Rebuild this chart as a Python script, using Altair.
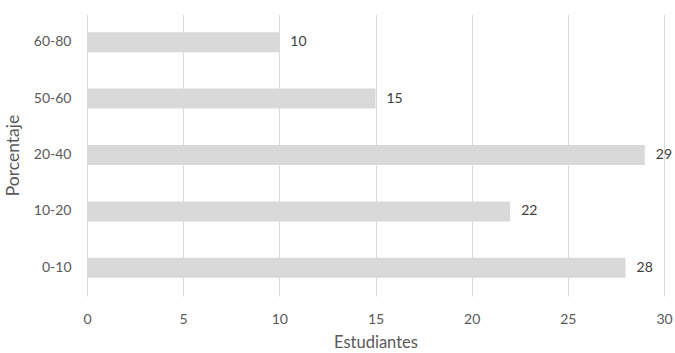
import altair as alt
import pandas as pd

categories = ["60-80", "50-60", "20-40", "10-20", "0-10"]
values = [10, 15, 29, 22, 28]

df = pd.DataFrame({"Porcentaje": categories, "Estudiantes": values})

FONT = "Lato"
base = alt.Chart(df)

y_enc = alt.Y(
    "Porcentaje:N",
    sort=categories,
    scale=alt.Scale(paddingInner=0.645, paddingOuter=0.3225),
    axis=alt.Axis(
        title="Porcentaje", domain=False, ticks=False, labelPadding=16,
        labelFontSize=14, labelColor="#595959", labelFont=FONT,
        titleFontSize=17.5, titleColor="#595959", titleFont=FONT,
        titleFontWeight="normal", titlePadding=11, grid=False,
    ),
)

x_enc = alt.X(
    "Estudiantes:Q",
    scale=alt.Scale(domain=[0, 30], nice=False),
    axis=alt.Axis(
        title="Estudiantes", values=[0, 5, 10, 15, 20, 25, 30], domain=False,
        ticks=False, labelPadding=16, labelFlush=False, grid=True,
        gridColor="#d9d9d9", gridWidth=1, labelFontSize=14,
        labelColor="#595959", labelFont=FONT,
        titleFontSize=16.5, titleColor="#595959", titleFont=FONT,
        titleFontWeight="normal", titlePadding=8,
    ),
)

bars = base.mark_bar(color="#d9d9d9").encode(x=x_enc, y=y_enc)
labels = base.mark_text(
    align="left", baseline="middle", dx=11, fontSize=14, color="#404040", font=FONT
).encode(x="Estudiantes:Q", y=alt.Y("Porcentaje:N", sort=categories), text="Estudiantes:Q")

chart = (
    (bars + labels)
    .properties(
        width=577, height=282,
        autosize=alt.AutoSizeParams(type="none"),
        padding={"left": 87, "top": 14, "right": 11, "bottom": 57},
    )
    .configure_view(stroke=None)
)

chart.save("out.html", embed_options={"renderer": "svg", "actions": False})
